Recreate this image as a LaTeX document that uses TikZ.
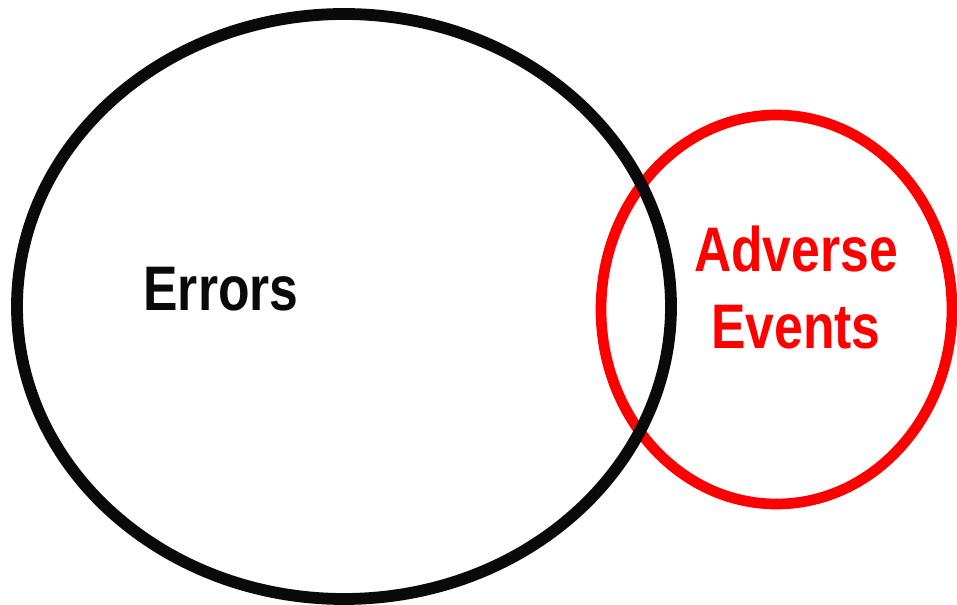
\documentclass[tikz,border=0pt]{standalone}
\usepackage{fontspec}
\setmainfont{Liberation Sans}
\newfontfamily\vennfont[FakeStretch=0.82]{Liberation Sans}
\definecolor{errblack}{RGB}{10,10,10}
\definecolor{aered}{RGB}{255,0,0}

\begin{document}
\begin{tikzpicture}[
    set/.style={line width=8.4pt},
    tag/.style={font=\vennfont\bfseries\fontsize{44.8}{54.8}\selectfont, inner sep=0pt},
  ]
  \useasboundingbox (0,0) rectangle (23.925,15.125);

  %% ---------------- adverse events (drawn first, errors on top) ----------------
  \draw[set, aered, line width=7.6pt] (19.4125,7.3875) ellipse [x radius=4.3875, y radius=4.8625];
  % base of a two-line node sits on its last line
  \node[tag, aered, align=center, anchor=base] (events) at (19.9,6.4) {Adverse\\Events};

  %% ---------------- errors ----------------
  \draw[set, errblack] (8.6,7.4625) ellipse [x radius=8.175, y radius=7.3125];
  \node[tag, errblack, anchor=base] (errors) at (5.525,7.35) {Errors};

\end{tikzpicture}
\end{document}
